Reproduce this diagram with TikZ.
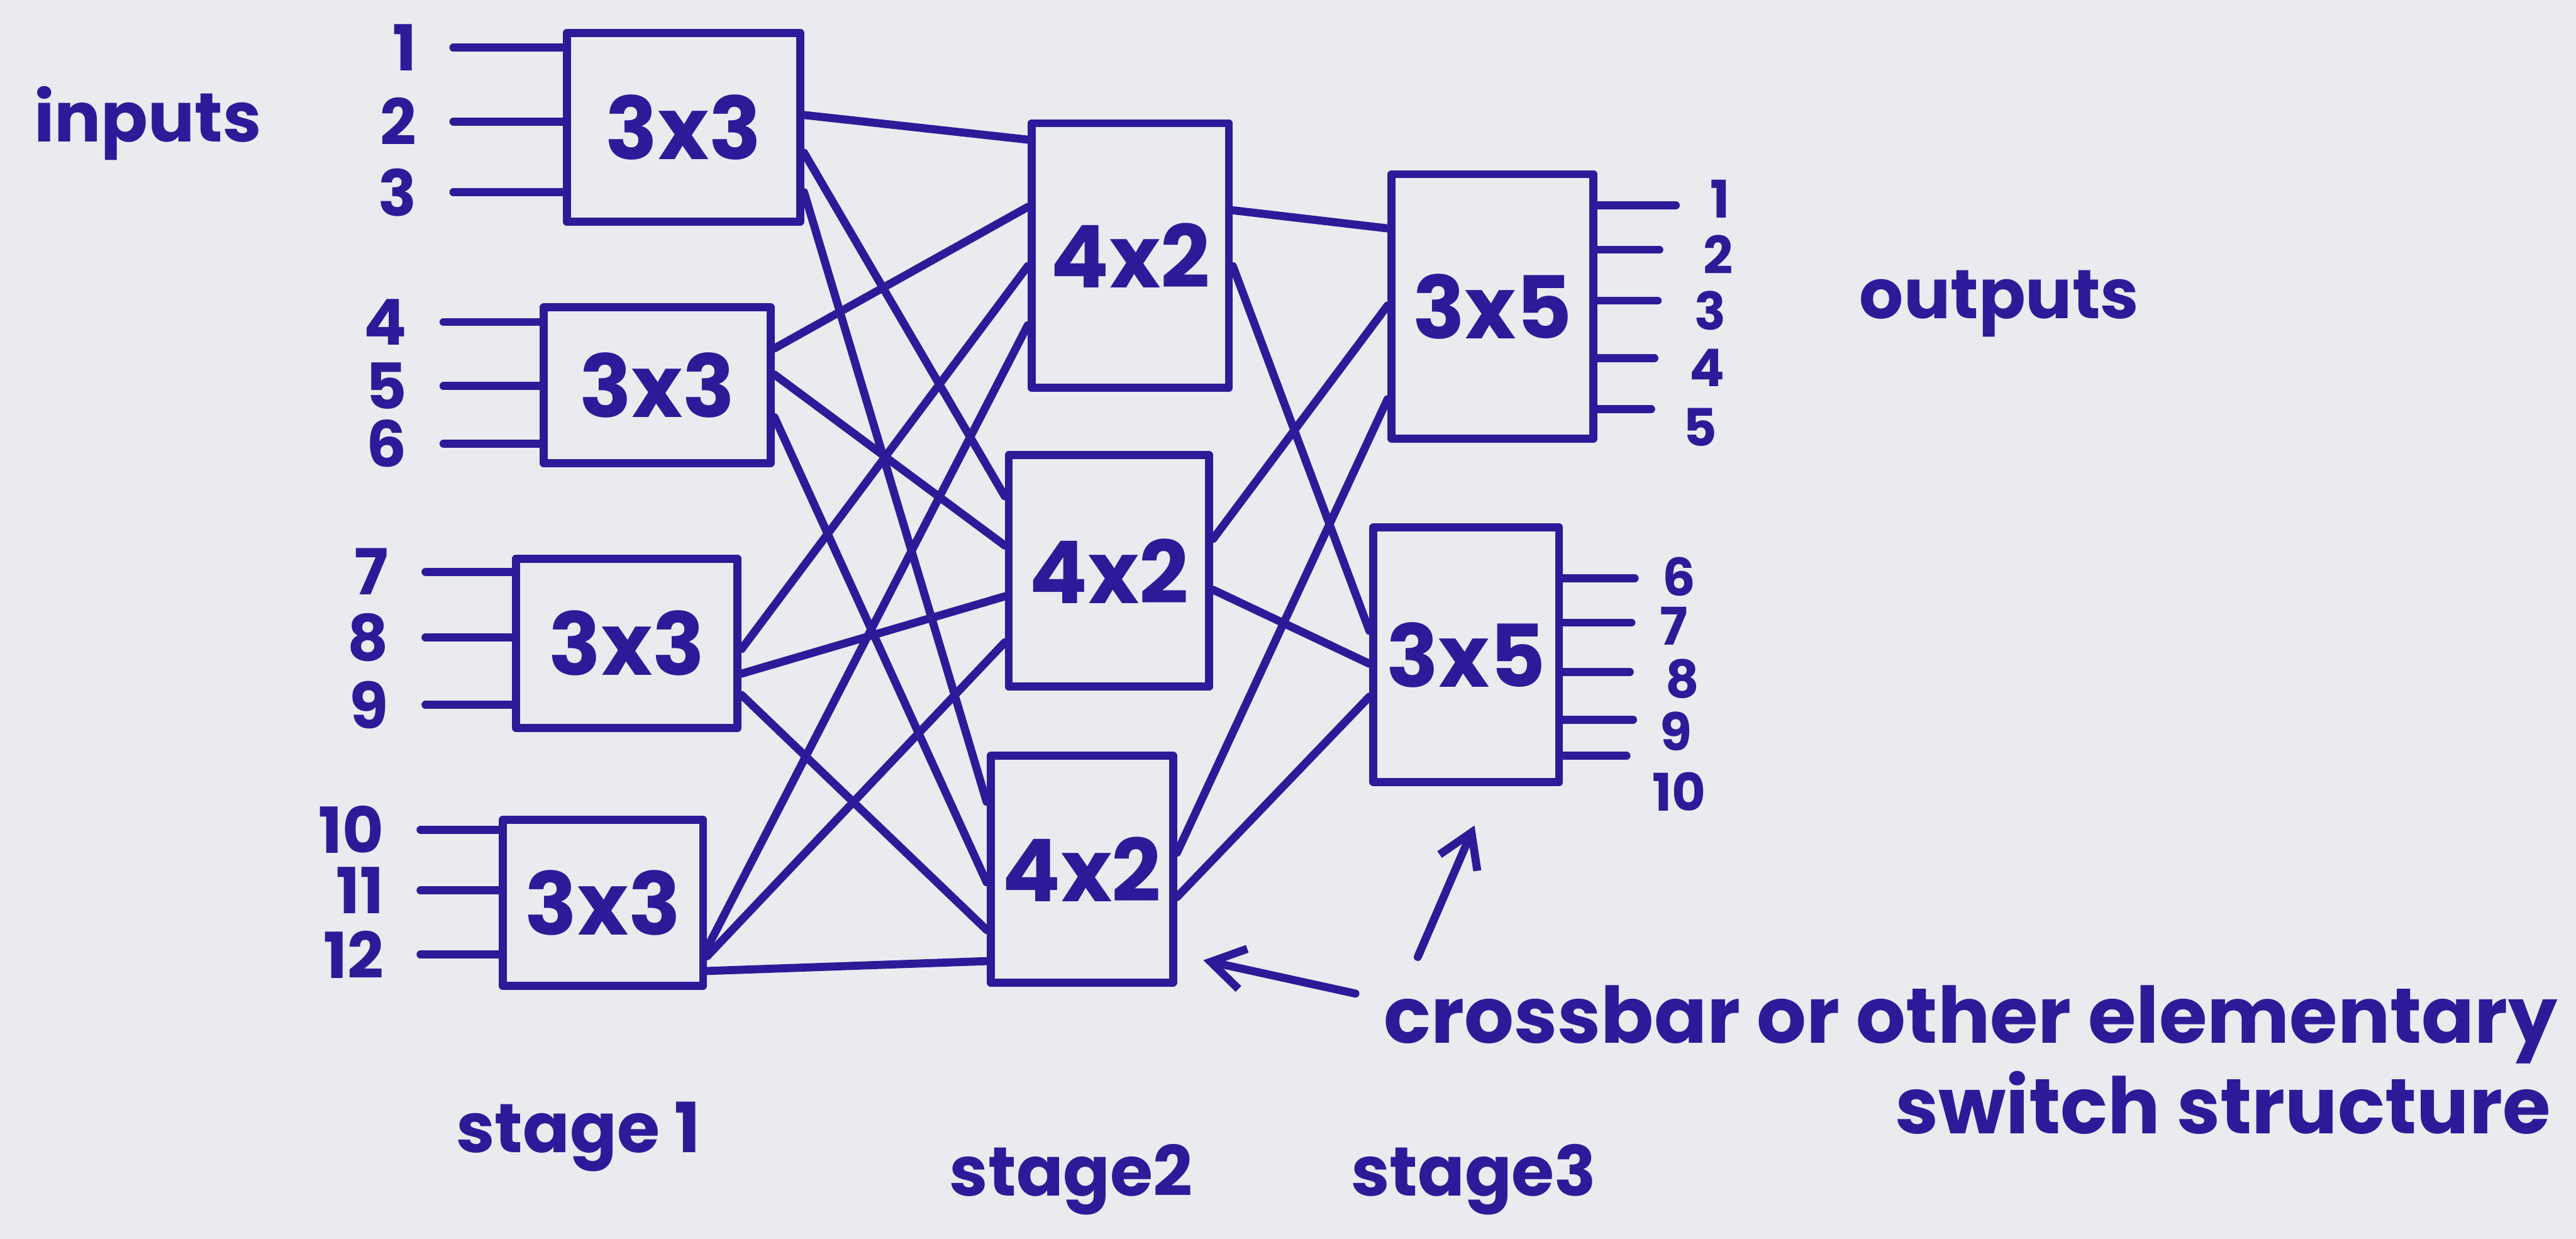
\documentclass[tikz,border=0pt]{standalone}
\usepackage{fontspec}
\setmainfont{Poppins}
\usepackage{tikz}
\usetikzlibrary{arrows.meta,positioning,calc}

\definecolor{ink}{RGB}{42,28,152}
\definecolor{paper}{RGB}{233,235,239}

\begin{document}
\begin{tikzpicture}[x=0.02cm, y=-0.02cm, color=ink,
  line width=2.8pt, line cap=round, line join=round,
  swbox/.style={draw, rectangle, inner sep=0pt, font=\fontsize{30}{36}\selectfont\bfseries},
  num/.style={inner sep=0pt, font=\fontsize{22}{26}\selectfont\bfseries},
  outnum/.style={inner sep=0pt, font=\fontsize{18}{22}\selectfont\bfseries},
  lbl/.style={inner sep=0pt, font=\fontsize{24}{30}\selectfont\bfseries},
  note/.style={inner sep=0pt, font=\fontsize{27}{34}\selectfont\bfseries},
  arr/.style={-{Straight Barb[length=0.4cm,width=0.5cm]}}]

\fill[paper] (0,0) rectangle (1568,754);

% switch boxes, stage by stage
\node[swbox, minimum width=2.84cm, minimum height=2.30cm] (s1a) at (416,77.5) {3x3};
\node[swbox, minimum width=2.76cm, minimum height=1.90cm] (s1b) at (400,234.5) {3x3};
\node[swbox, minimum width=2.70cm, minimum height=2.06cm] (s1c) at (381.5,391.5) {3x3};
\node[swbox, minimum width=2.44cm, minimum height=2.02cm] (s1d) at (367,549.5) {3x3};

\node[swbox, minimum width=2.40cm, minimum height=3.22cm] (s2a) at (688,155.5) {4x2};
\node[swbox, minimum width=2.44cm, minimum height=2.82cm] (s2b) at (675,347.5) {4x2};
\node[swbox, minimum width=2.22cm, minimum height=2.76cm] (s2c) at (658.5,529) {4x2};

\node[swbox, minimum width=2.46cm, minimum height=3.22cm] (s3a) at (908.5,186.5) {3x5};
\node[swbox, minimum width=2.26cm, minimum height=3.10cm] (s3b) at (892.5,398.5) {3x5};

% inputs
\foreach \n/\x/\y/\b in {1/276/29/s1a, 2/276/74/s1a, 3/276/117/s1a,
    4/270/196/s1b, 5/270/235/s1b, 6/270/270/s1b,
    7/259/348/s1c, 8/259/388/s1c, 9/259/429/s1c,
    10/256/505/s1d, 11/256/542/s1d, 12/256/581/s1d} {
  \coordinate (i\n) at (\x,\y);
  \node[num, left=0.4cm of i\n] (li\n) {\n};
  \draw (i\n) -- (\b.west |- i\n);
}

% links between the stages
\foreach \a/\ya/\b/\yb in {s1a/70/s2a/85, s1a/93/s2b/302, s1a/117/s2c/488,
    s1b/212/s2a/126, s1b/228/s2b/332, s1b/254/s2c/537,
    s1c/395/s2a/162, s1c/410/s2b/363, s1c/423/s2c/566,
    s1d/577/s2a/198, s1d/582/s2b/391, s1d/591/s2c/585,
    s2a/128/s3a/139, s2a/162/s3b/384,
    s2b/328/s3a/186, s2b/359/s3b/404,
    s2c/519/s3a/243, s2c/546/s3b/424}
  \draw (\a.east |- 0,\ya) -- (\b.west |- 0,\yb);

% outputs
\foreach \n/\y/\b/\x/\lx/\ly in {1/125/s3a/1020/1047/121, 2/152/s3a/1010/1046/155,
    3/183/s3a/1009/1041/189, 4/218/s3a/1007/1039/224, 5/249/s3a/1005/1035/260,
    6/352/s3b/995/1022/351, 7/379/s3b/993/1019/381, 8/409/s3b/992/1024/413,
    9/438/s3b/994/1020/445, 10/460/s3b/990/1022/482} {
  \draw (\b.east |- 0,\y) -- (\x,\y) coordinate (o\n);
  \node[outnum] (lo\n) at (\lx,\ly) {\n};
}

\node[lbl] (inputs) at (90,75) {inputs};
\node[lbl] (outputs) at (1217,185) {outputs};
\node[lbl] (st1) at (352,692) {stage 1};
\node[lbl] (st2) at (652,718) {stage2};
\node[lbl] (st3) at (897,718) {stage3};

\node[note, anchor=base west] (note1) at (840,635) {crossbar or other elementary};
\node[note, anchor=base east] (note2) at (1555,690) {switch structure};

\draw[arr] ([shift={(-0.3cm,0.38cm)}]note1.west) -- ([shift={(0.32cm,0.32cm)}]s2c.south east);
\draw[arr] ([shift={(0.46cm,0.3cm)}]note1.north west) -- ([shift={(0.1cm,-0.48cm)}]s3b.south);
\end{tikzpicture}
\end{document}
